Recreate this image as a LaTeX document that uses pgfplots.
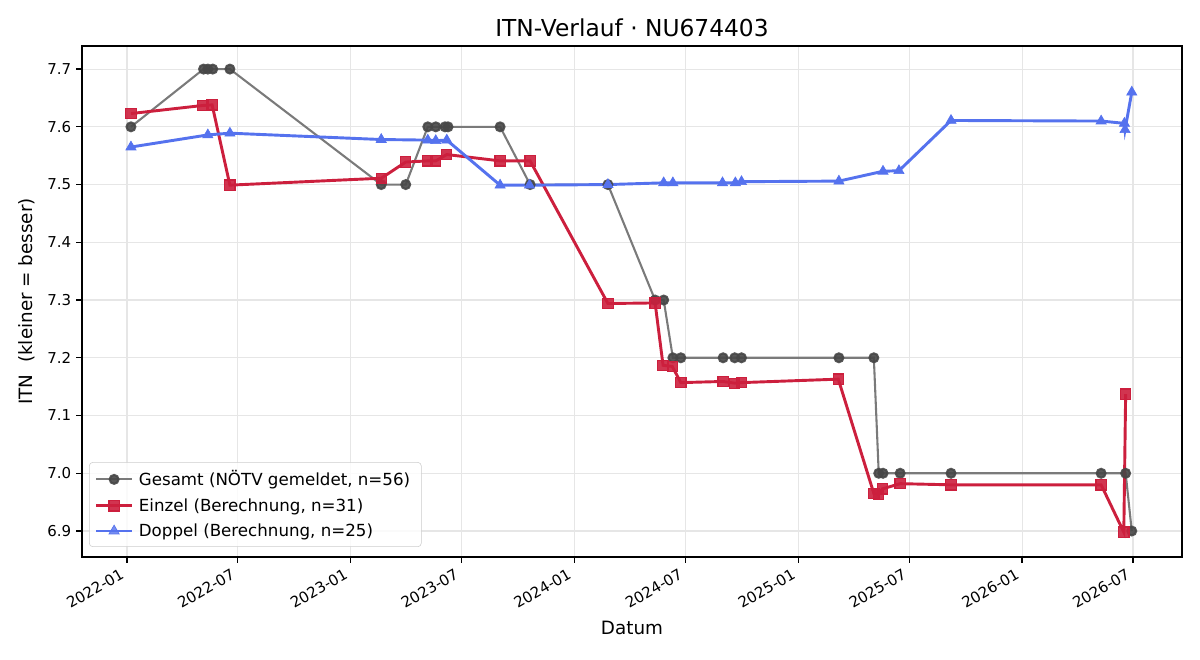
\documentclass[border=0pt]{standalone}
\usepackage{fontspec}
\setmainfont{DejaVu Sans}
\usepackage{pgfplots}
\pgfplotsset{compat=1.18}

\definecolor{gesamtline}{HTML}{7A7A7A}
\definecolor{gesamtmark}{HTML}{474747}
\definecolor{einzel}{HTML}{CC1F3D}
\definecolor{doppel}{HTML}{5572EE}
\definecolor{gridc}{HTML}{E6E6E6}

% x values: days since 2022-01-01
\pgfplotstableread{
x y
6.5 7.6
125 7.7
132 7.7
140 7.7
168 7.7
415 7.5
455 7.5
491 7.6
504 7.6
519 7.6
524 7.6
609 7.6
658 7.5
785 7.5
862 7.3
876 7.3
891 7.2
904 7.2
973 7.2
992 7.2
1003 7.2
1162 7.2
1219 7.2
1227 7.0
1234 7.0
1262 7.0
1345 7.0
1590 7.0
1630 7.0
1640 6.9
}\gesamt

\pgfplotstableread{
x y
6.5 7.623
124 7.637
139 7.638
168 7.499
415 7.511
455 7.539
491 7.541
504 7.541
522 7.552
609 7.541
658 7.541
785 7.294
862 7.295
875 7.187
890 7.185
904 7.157
973 7.159
992 7.156
1003 7.157
1161 7.163
1219 6.965
1227 6.963
1233 6.973
1262 6.982
1345 6.980
1590 6.980
1627 6.898
1630 7.137
}\einzel

\pgfplotstableread{
x y
6.5 7.565
132 7.586
168 7.589
415 7.578
491 7.577
504 7.576
522 7.577
609 7.499
657 7.499
785 7.500
876 7.503
891 7.503
972 7.503
993 7.503
1003 7.505
1162 7.506
1234 7.523
1260 7.524
1345 7.611
1590 7.610
1628 7.606
1629 7.595
1640 7.660
}\doppel

\begin{document}
\begin{tikzpicture}
\useasboundingbox (0,0) rectangle (864pt,475.2pt);
\begin{axis}[
  at={(59.04pt,74.16pt)}, anchor=south west,
  scale only axis, width=792pt, height=367.92pt,
  xmin=-73.4, xmax=1722, ymin=6.855, ymax=7.740,
  axis line style={black, line width=0.9pt},
  tick style={black, line width=0.9pt},
  tick align=outside, major tick length=4.2pt,
  xtick pos=bottom, ytick pos=left,
  xtick={0,181,365,546,730,912,1096,1277,1461,1642},
  xticklabels={2022-01,2022-07,2023-01,2023-07,2024-01,2024-07,2025-01,2025-07,2026-01,2026-07},
  xticklabel style={xshift=-5pt, yshift=-2pt, rotate=30, anchor=north east, inner sep=1pt,
    font=\fontsize{10.8}{13}\selectfont},
  ytick={6.9,7.0,...,7.75},
  yticklabel style={font=\fontsize{10.8}{13}\selectfont, /pgf/number format/.cd, fixed, fixed zerofill, precision=1},
  /pgf/number format/assume math mode=true,
  grid=major,
  major grid style={gridc, line width=0.8pt},
  title={ITN-Verlauf · NU674403},
  title style={font=\fontsize{16.8}{19}\selectfont, yshift=-3pt},
  xlabel={Datum},
  ylabel={ITN\ \ (kleiner = besser)},
  label style={font=\fontsize{13.2}{15}\selectfont},
  xlabel style={yshift=-4pt},
  ylabel style={yshift=2pt},
  legend cell align=left,
  legend style={at={(0.0064,0.0196)}, anchor=south west,
    draw=black!20, rounded corners=2.5pt, fill=white, fill opacity=0.8, text opacity=1,
    font=\fontsize{12}{14}\selectfont, row sep=3.5pt, inner xsep=4pt, inner ysep=4pt,
    nodes={inner xsep=4pt}},
  legend image code/.code={\draw[mark repeat=2,mark phase=2] plot coordinates {(0cm,0cm)(0.45cm,0cm)(0.9cm,0cm)};},
]
\addplot[gesamtline, line width=1.5pt, mark=*, mark size=3.2pt,
  mark options={draw=gesamtmark, fill=gesamtmark, fill opacity=0.9, draw opacity=0.9}]
  table {\gesamt};
\addlegendentry{Gesamt (NÖTV gemeldet, n=56)}
\addplot[einzel, line width=2.1pt, mark=square*, mark size=3.7pt,
  mark options={draw=einzel, fill=einzel, fill opacity=0.9, line width=0.8pt}]
  table {\einzel};
\addlegendentry{Einzel (Berechnung, n=31)}
\addplot[doppel, line width=2.1pt, mark=triangle*, mark size=4.2pt,
  mark options={draw=doppel, fill=doppel, line width=0.5pt}]
  table {\doppel};
\addlegendentry{Doppel (Berechnung, n=25)}
\end{axis}
\end{tikzpicture}
\end{document}
